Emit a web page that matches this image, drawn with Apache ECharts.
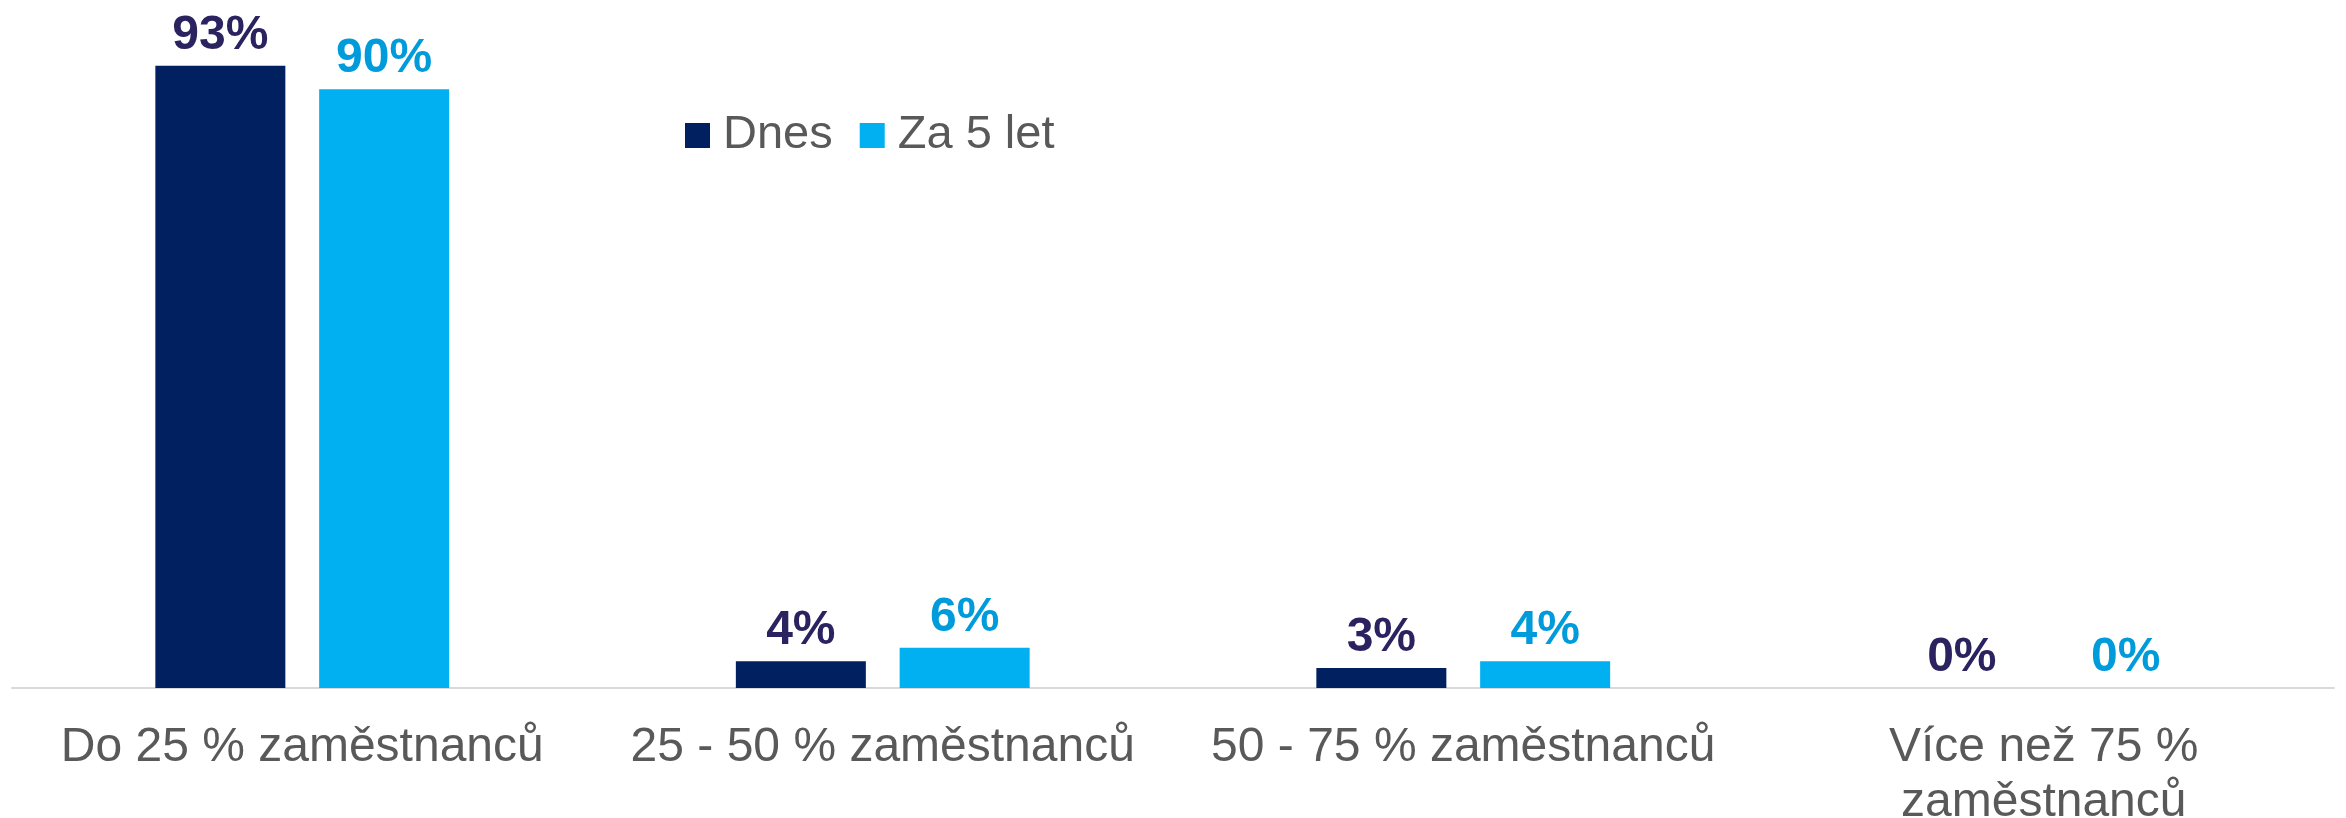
<!DOCTYPE html>
<html>
<head>
<meta charset="utf-8">
<script src="https://cdn.jsdelivr.net/npm/echarts@6/dist/echarts.min.js"></script>
<style>
  html, body { margin: 0; padding: 0; background: #fff; }
  #chart { width: 2346px; height: 818px; }
</style>
</head>
<body>
<div id="chart"></div>
<script>
// data
const categories = [
  "Do 25 % zaměstnanců",
  "25 - 50 % zaměstnanců",
  "50 - 75 % zaměstnanců",
  "Více než 75 %\nzaměstnanců",
];
const seriesNames = ["Dnes", "Za 5 let"];
const dnes = [93, 4, 3, 0];
const za5let = [89.5, 6, 4, 0]; // bar is a bit lower than 90, label rounds to 90%

const font = "'Liberation Sans', Arial, sans-serif";
const chart = echarts.init(document.getElementById("chart"));

const labelFor = (color) => ({
  show: true,
  position: "top",
  distance: 6,
  formatter: (p) => Math.round(p.value) + "%",
  color: color,
  fontFamily: font,
  fontWeight: "bold",
  fontSize: 48,
});

chart.setOption({
  backgroundColor: "#ffffff",
  animation: false,
  legend: {
    data: seriesNames,
    left: 680,
    top: 107,
    itemWidth: 25,
    itemHeight: 25,
    itemGap: 27,
    icon: "rect",
    textStyle: {
      color: "#595959",
      fontFamily: font,
      fontSize: 47,
      padding: [0, 0, 0, 8],
    },
  },
  grid: {
    left: 12,
    right: 12,
    top: 19,
    bottom: 130,
    containLabel: false,
    outerBoundsMode: "none",
  },
  xAxis: {
    type: "category",
    data: categories,
    axisLine: { lineStyle: { color: "#d9d9d9", width: 2 } },
    axisTick: { show: false },
    axisLabel: {
      color: "#595959",
      fontFamily: font,
      fontSize: 48,
      lineHeight: 55,
      margin: 32,
      interval: 0,
    },
  },
  yAxis: {
    type: "value",
    min: 0,
    max: 100,
    show: false,
    splitLine: { show: false },
  },
  series: [
    {
      name: seriesNames[0],
      type: "bar",
      data: dnes,
      barWidth: 130,
      barGap: "26%",
      itemStyle: { color: "#002060" },
      label: labelFor("#2b2360"),
    },
    {
      name: seriesNames[1],
      type: "bar",
      data: za5let,
      barWidth: 130,
      barGap: "26%",
      itemStyle: { color: "#00b0f0" },
      label: labelFor("#009bdb"),
    },
  ],
});
</script>
</body>
</html>
